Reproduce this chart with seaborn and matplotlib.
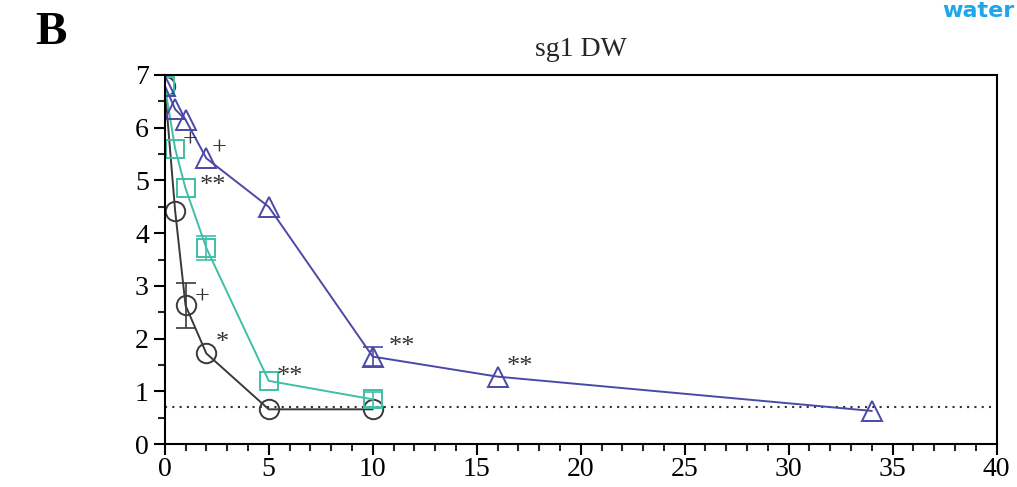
import numpy as np
import pandas as pd
import seaborn as sns
import matplotlib.pyplot as plt
from matplotlib.ticker import MultipleLocator

# time points and log counts
circ_x = [0, 0.5, 1, 2, 5, 10]
circ_y = [6.8, 4.42, 2.63, 1.72, 0.66, 0.66]
sq_x = [0, 0.5, 1, 2, 5, 10]
sq_y = [6.8, 5.6, 4.85, 3.72, 1.2, 0.85]
tri_x = [0, 0.5, 1, 2, 5, 10, 16, 34]
tri_y = [6.8, 6.35, 6.15, 5.42, 4.5, 1.66, 1.28, 0.63]
detect_limit = 0.7

# (x, y, error) for the visible error bars
circ_err = [(1, 2.63, 0.42)]
sq_err = [(2, 3.72, 0.22), (10, 0.85, 0.14)]
tri_err = [(10, 1.66, 0.18)]

# significance marks: (x, y, text)
marks = [(1.2, 5.75, '+'), (2.3, 4.9, '**'), (2.6, 5.6, '+'), (1.8, 2.78, '+'),
         (2.75, 1.92, '*'), (6.0, 1.27, '**'), (11.4, 1.84, '**'), (17.1, 1.47, '**')]

sns.set_style('ticks')
plt.rcParams['font.family'] = ['Liberation Serif', 'DejaVu Serif']

fig = plt.figure(figsize=(10.17, 4.87), dpi=100)
ax = fig.add_axes([0.162, 0.088, 0.818, 0.758])

series = [
    (circ_x, circ_y, 'o', '#3a3a3a', 14, circ_err),
    (sq_x, sq_y, 's', '#3fbfa6', 13, sq_err),
    (tri_x, tri_y, '^', '#4a49a6', 14, tri_err),
]
for xs, ys, m, c, ms, errs in series:
    df = pd.DataFrame({'t': xs, 'v': ys})
    sns.lineplot(data=df, x='t', y='v', ax=ax, color=c, lw=1.4, marker=m,
                 markersize=ms, markerfacecolor='none', markeredgecolor=c,
                 markeredgewidth=1.4)
    for ex, ey, ee in errs:
        ax.errorbar(ex, ey, yerr=ee, color=c, capsize=7, lw=1.2, capthick=1.2)

ax.axhline(detect_limit, color='#333333', ls=(0, (1, 2.5)), lw=1.5, zorder=0)

for mx, my, mt in marks:
    ax.text(mx, my, mt, fontsize=19, color='#333333', va='center', ha='center')

ax.set_xlim(0, 40)
ax.set_ylim(0, 7)
ax.xaxis.set_major_locator(MultipleLocator(5))
ax.xaxis.set_minor_locator(MultipleLocator(1))
ax.yaxis.set_major_locator(MultipleLocator(1))
ax.yaxis.set_minor_locator(MultipleLocator(0.5))
ax.tick_params(which='major', length=8, width=1.5, labelsize=20, direction='out',
               colors='black')
ax.tick_params(axis='x', which='major', pad=1)
ax.tick_params(which='minor', length=5, width=1.5, direction='out')
for s in ax.spines.values():
    s.set_linewidth(1.5)
    s.set_color('black')
ax.set_xlabel('')
ax.set_ylabel('')

ax.set_title('sg1 DW', fontsize=20, pad=14)
fig.text(0.035, 0.975, 'B', fontsize=34, fontweight='bold', va='top', color='black')
fig.text(0.998, 0.998, 'water', fontsize=16, fontweight='bold', color='#1ea6ea',
         family=['DejaVu Sans'], va='top', ha='right')

plt.savefig('out.png', dpi=100)
